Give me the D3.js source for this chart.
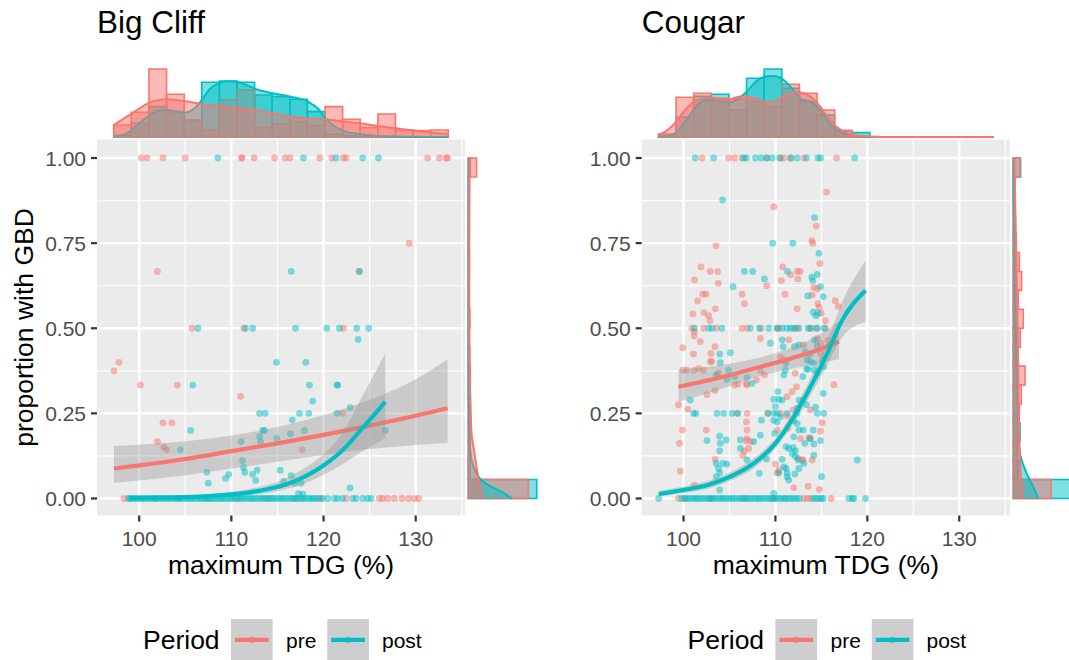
<!DOCTYPE html>
<html>
<head>
<meta charset="utf-8">
<script src="https://cdn.jsdelivr.net/npm/d3@7"></script>
<style>
  body { margin: 0; background: #ffffff; }
  svg { display: block; font-family: "Liberation Sans", Arial, sans-serif; }
</style>
</head>
<body>
<svg id="chart" width="1069" height="660"></svg>
<script>
// ---------- shared settings ----------
const periods = ["pre", "post"];
const periodColors = ["#F8766D", "#00BFC4"];
const xTicks = [100, 110, 120, 130];
const xMinorTicks = [95, 105, 115, 125, 135];
const yTicks = [0, 0.25, 0.5, 0.75, 1];
const yTickLabels = ["0.00", "0.25", "0.50", "0.75", "1.00"];
const yMinorTicks = [0.125, 0.375, 0.625, 0.875];
const facetTitles = ["Big Cliff", "Cougar"];

// ---------- Big Cliff ----------
const bigCliffExtent = [97.24, 133.53];
const bigCliffPreOnes = [100.24, 100.85, 102.58, 105.0, 111.1, 111.18, 112.48, 114.68, 115.84, 116.38, 119.59, 120.89, 122.16, 122.45, 131.29, 132.56, 133.28, 133.46];
const bigCliffPostOnes = [108.54, 117.82, 121.36, 124.25, 125.95];
const bigCliffPreZeros = [98.35, 98.8, 101.8, 104.4, 107.3, 110.6, 113.9, 117.0, 119.7, 122.45, 126.06, 126.41, 126.96, 127.68, 128.51, 129.23, 129.85, 130.32];
const bigCliffPostZeros = [98.9, 99.1, 99.4, 99.6, 99.9, 100.2, 100.5, 100.7, 101.0, 101.3, 101.6, 101.8, 102.1, 102.4, 102.7, 103.0, 103.2, 103.5, 103.8, 104.1, 104.3, 104.6, 104.9, 105.2, 105.5, 105.7, 106.0, 106.3, 106.6, 106.8, 107.1, 107.4, 107.7, 107.9, 108.2, 108.5, 108.8, 109.0, 109.3, 109.6, 109.9, 110.1, 110.4, 110.7, 111.0, 111.2, 111.5, 111.8, 112.1, 112.3, 112.6, 112.9, 113.2, 113.4, 113.7, 114.0, 114.3, 114.5, 114.8, 115.1, 115.4, 115.6, 115.9, 116.2, 116.5, 116.7, 117.0, 117.3, 117.6, 117.8, 118.1, 118.4, 118.7, 118.9, 119.2, 119.5, 119.9, 120.46, 121.18, 121.54, 122.08, 123.17, 123.53, 124.25, 124.79, 125.15];
const bigCliffPreOther = [
  [129.3, 0.75], [101.97, 0.667], [123.85, 0.667], [105.72, 0.5], [111.36, 0.5], [122.16, 0.5],
  [97.27, 0.375], [97.81, 0.4], [100.13, 0.333], [104.14, 0.333], [111.0, 0.3], [122.08, 0.25],
  [102.58, 0.222], [103.55, 0.222], [102.0, 0.167], [102.69, 0.15], [102.98, 0.143], [117.68, 0.143]
];
const bigCliffPostOther = [
  [116.49, 0.667], [123.9, 0.667], [106.37, 0.5], [111.54, 0.5], [112.33, 0.5], [116.96, 0.5],
  [120.35, 0.5], [121.72, 0.5], [123.6, 0.5], [124.9, 0.5], [123.75, 0.467], [105.83, 0.333],
  [114.9, 0.4], [118.07, 0.4], [118.47, 0.333], [121.54, 0.333], [121.45, 0.333], [118.83, 0.286],
  [122.88, 0.267], [121.47, 0.25], [118.4, 0.25], [117.39, 0.25], [113.05, 0.25], [113.67, 0.25],
  [116.6, 0.231], [105.58, 0.2], [113.4, 0.2], [113.6, 0.2], [113.05, 0.182], [117.93, 0.2],
  [116.41, 0.19], [114.93, 0.176], [113.16, 0.167], [111.07, 0.167], [104.46, 0.143], [126.7, 0.2],
  [111.21, 0.111], [111.32, 0.091], [111.46, 0.077], [112.3, 0.071], [112.8, 0.083], [112.65, 0.053],
  [107.35, 0.077], [107.5, 0.045], [109.37, 0.059], [109.73, 0.071], [115.3, 0.083], [115.69, 0.05],
  [116.49, 0.067], [116.85, 0.045], [117.57, 0.045], [117.28, 0.014], [117.75, 0.013], [122.88, 0.031]
];
// logistic fits: [x, fit, lower, upper]
const bigCliffPreFit = [
  [97.27, 0.088, 0.046, 0.154], [100, 0.097, 0.053, 0.158], [105, 0.116, 0.068, 0.168],
  [110, 0.139, 0.088, 0.185], [115, 0.162, 0.108, 0.21], [120, 0.187, 0.128, 0.245],
  [125, 0.214, 0.145, 0.29], [130, 0.243, 0.157, 0.35], [133.46, 0.265, 0.164, 0.409]
];
const bigCliffPostFit = [
  [98.9, 0.001, 0.0, 0.004], [102, 0.002, 0.0005, 0.006], [105, 0.004, 0.001, 0.009],
  [108, 0.008, 0.003, 0.014], [110, 0.012, 0.006, 0.02], [112, 0.018, 0.01, 0.028],
  [114, 0.028, 0.016, 0.04], [116, 0.042, 0.028, 0.06], [118, 0.065, 0.045, 0.09],
  [120, 0.097, 0.07, 0.13], [122, 0.14, 0.1, 0.19], [124, 0.2, 0.135, 0.29], [126.7, 0.284, 0.176, 0.426]
];
// marginal histograms (19 bins across the x extent) and densities
const bigCliffPreHist = [0.0123, 0.025, 0.0683, 0.043, 0.0167, 0.0073, 0.0373, 0.0473, 0.0097, 0.0133, 0.0157, 0.0117, 0.0307, 0.018, 0.0097, 0.0233, 0.0073, 0.0067, 0.0073];
const bigCliffPostHist = [0.002, 0.014, 0.0307, 0.0257, 0.0173, 0.055, 0.0563, 0.055, 0.0423, 0.0407, 0.038, 0.0257, 0.003, 0.0015, 0.001, 0.001, 0, 0, 0];
const bigCliffPreDens = [[97.24, .0123], [99.22, .024], [101.14, .0347], [103.05, .038], [105.04, .036], [106.84, .033], [108.83, .0307], [110.71, .0287], [112.69, .0267], [114.5, .024], [116.41, .0207], [118.29, .0187], [120.2, .018], [122.08, .0157], [123.96, .014], [125.87, .0113], [127.86, .009], [129.74, .0067], [131.65, .0047], [133.53, .0033]];
const bigCliffPostDens = [[97.24, .0007], [98.25, .0023], [99.22, .0073], [100.23, .0157], [101.14, .0223], [102.22, .0267], [103.05, .0273], [104.03, .0257], [105.04, .0247], [106.01, .029], [106.84, .038], [107.64, .048], [108.83, .0547], [109.8, .056], [110.71, .0553], [111.61, .0523], [112.69, .048], [114.5, .044], [116.41, .0407], [118.29, .0357], [119.55, .0273], [120.2, .019], [120.99, .0123], [122.08, .0067], [123.96, .0033], [125.87, .0013], [127.86, .0007], [131.65, .0003], [133.53, .0002]];
// right marginal (18 bins over 0..1)
const bigCliffPreYHist = [12.0, 0.2, 0.4, 0.3, 0.2, 0.3, 0.4, 0.3, 0.1, 0.3, 0, 0.1, 0.2, 0.1, 0, 0, 0, 1.66];
const bigCliffPostYHist = [13.68, 0.3, 0.2, 0.2, 0.2, 0.26, 0.16, 0.16, 0.08, 0.2, 0, 0, 0.12, 0, 0, 0, 0, 0.4];
const bigCliffPreYDens = [[0, 2.66], [0.034, 2.34], [0.074, 1.86], [0.142, 1.14], [0.191, 0.66], [0.27, 0.46], [0.368, 0.26], [0.564, 0.2], [0.76, 0.2], [0.956, 0.26], [1, 0.26]];
const bigCliffPostYDens = [[0, 8.7], [0.02, 6.6], [0.039, 4.0], [0.054, 2.6], [0.083, 1.34], [0.113, 0.66], [0.152, 0.34], [0.22, 0.2], [0.368, 0.06], [0.564, 0.06], [0.76, 0.06], [0.956, 0.1], [1, 0.1]];

// ---------- Cougar ----------
const cougarExtent = [97.27, 133.7];
const cougarPreOnes = [102.0, 104.91, 105.56, 106.36, 109.09, 110.55, 110.91, 111.71, 113.09, 116.65];
const cougarPostOnes = [101.27, 103.27, 106.55, 106.84, 107.82, 108.44, 109.02, 109.64, 110.47, 111.64, 112.36, 113.38, 114.62, 114.91, 118.62];
const cougarPreHalves = [100.91, 102.18, 103.56, 106.36, 106.91, 108.44, 110.18, 110.36, 112.18, 112.36, 113.75, 114.44, 115.45];
const cougarPostHalves = [101.2, 102.73, 103.09, 104.18, 107.27, 108.25, 109.27, 110.18, 110.73, 111.27, 111.64, 112.0, 112.58, 113.56, 113.89, 114.55, 115.27];
const cougarPreQuarters = [105.82, 106.91, 109.16, 110.55];
const cougarPostQuarters = [101.09, 101.35, 103.64, 104.36, 105.27, 105.93, 109.2, 109.82, 110.18, 111.27, 112.36, 114.55, 115.27];
const cougarPreZeros = [99.45, 100.18, 103.0, 106.5, 109.8, 113.1, 113.45, 113.8, 116.07];
const cougarPostZeros = [97.3, 99.8, 100.1, 100.4, 100.7, 101.0, 101.3, 101.5, 101.8, 102.1, 102.4, 102.7, 102.9, 103.2, 103.5, 103.8, 104.1, 104.3, 104.6, 104.9, 105.2, 105.45, 105.8, 106.1, 106.4, 106.7, 106.9, 107.2, 107.5, 107.8, 108.1, 108.3, 108.6, 108.9, 109.2, 109.5, 109.7, 110.0, 110.3, 110.6, 110.9, 111.1, 111.4, 111.7, 112.0, 112.3, 112.6, 114.1, 114.4, 114.7, 115.0, 115.2, 118.0, 118.36, 118.54, 119.8];
const cougarPreOther = [
  [115.56, 0.9], [109.82, 0.857], [114.44, 0.8], [113.96, 0.757], [114.07, 0.75], [103.53, 0.742],
  [114.84, 0.69], [101.89, 0.68], [102.9, 0.667], [103.7, 0.667], [110.8, 0.68], [111.64, 0.657],
  [112.36, 0.667], [112.69, 0.667], [112.44, 0.645], [101.2, 0.642], [103.78, 0.632], [109.05, 0.625],
  [110.65, 0.64], [114.58, 0.616], [114.18, 0.62], [114.0, 0.598], [102.1, 0.6], [102.44, 0.6],
  [106.36, 0.6], [111.05, 0.6], [101.53, 0.58], [106.62, 0.572], [103.45, 0.557], [101.02, 0.542],
  [102.22, 0.546], [102.73, 0.537], [102.87, 0.522], [112.36, 0.557], [114.98, 0.544], [114.62, 0.572],
  [114.76, 0.561], [116.5, 0.581], [116.85, 0.564], [115.45, 0.522],
  [101.16, 0.49], [101.16, 0.477], [99.93, 0.443], [101.09, 0.424], [101.82, 0.461], [102.98, 0.426],
  [103.42, 0.446], [103.09, 0.402], [102.9, 0.402], [101.16, 0.377], [99.93, 0.377], [100.36, 0.377],
  [101.64, 0.382], [102.18, 0.377], [103.8, 0.368], [108.36, 0.47], [111.45, 0.466], [113.05, 0.451],
  [114.55, 0.47], [114.91, 0.456], [114.91, 0.426], [115.71, 0.464], [116.36, 0.334], [110.98, 0.407],
  [110.55, 0.415], [112.15, 0.368], [112.29, 0.328], [108.36, 0.377], [108.8, 0.363], [107.93, 0.348],
  [106.84, 0.338], [106.91, 0.333], [105.93, 0.336], [105.56, 0.333], [102.55, 0.305], [103.42, 0.317],
  [99.45, 0.275], [100.47, 0.262], [111.93, 0.26], [111.27, 0.243], [113.02, 0.289], [113.82, 0.26],
  [111.27, 0.299], [111.82, 0.314], [115.09, 0.223], [112.73, 0.176], [113.64, 0.179], [113.82, 0.176],
  [114.91, 0.198], [112.98, 0.113], [111.35, 0.206], [110.18, 0.201], [106.91, 0.201], [106.84, 0.225],
  [106.91, 0.176], [106.84, 0.169], [107.35, 0.167], [102.47, 0.201], [99.56, 0.162], [99.89, 0.201],
  [106.44, 0.127], [106.62, 0.14], [107.09, 0.147], [103.45, 0.115], [99.64, 0.08], [101.16, 0.039],
  [110.0, 0.101], [110.36, 0.083], [112.47, 0.118], [112.91, 0.113], [114.0, 0.113], [113.56, 0.036],
  [114.8, 0.027], [110.18, 0.075], [112.0, 0.032]
];
const cougarPostOther = [
  [104.25, 0.877], [114.25, 0.825], [109.71, 0.75], [111.89, 0.75], [114.73, 0.72], [106.62, 0.667],
  [107.53, 0.667], [111.31, 0.667], [108.8, 0.645], [105.38, 0.622], [113.96, 0.65], [114.07, 0.64],
  [114.55, 0.658], [114.91, 0.622], [115.2, 0.593], [113.53, 0.595], [114.1, 0.547], [114.4, 0.537],
  [114.65, 0.544],
  [103.93, 0.424], [104.0, 0.399], [105.09, 0.428], [109.45, 0.456], [110.73, 0.466], [110.84, 0.446],
  [112.07, 0.446], [112.55, 0.451], [113.24, 0.431], [113.78, 0.424], [114.25, 0.466], [114.55, 0.448],
  [113.45, 0.407], [113.82, 0.402], [114.18, 0.397], [113.38, 0.38], [113.6, 0.38], [114.25, 0.377],
  [114.55, 0.368], [115.16, 0.407], [115.24, 0.387], [111.16, 0.397], [110.91, 0.363], [111.09, 0.377],
  [112.98, 0.358], [107.45, 0.338], [105.56, 0.358], [106.91, 0.356], [104.91, 0.377], [103.56, 0.363],
  [104.73, 0.35], [100.73, 0.289],
  [110.0, 0.27], [110.36, 0.291], [110.73, 0.289], [110.25, 0.314], [109.82, 0.291], [110.55, 0.24],
  [112.36, 0.265], [112.58, 0.289], [113.38, 0.275], [114.36, 0.268], [115.2, 0.309], [114.11, 0.201],
  [113.75, 0.176], [113.02, 0.201], [112.36, 0.22], [112.55, 0.201], [112.0, 0.228], [113.2, 0.162],
  [114.18, 0.16], [114.91, 0.17], [112.0, 0.181], [111.93, 0.15], [112.18, 0.14], [111.82, 0.132],
  [112.18, 0.123], [112.44, 0.113], [111.45, 0.147], [111.16, 0.152], [109.93, 0.191], [110.18, 0.225],
  [109.82, 0.23], [108.47, 0.23], [106.18, 0.172], [108.36, 0.186], [107.64, 0.167], [103.93, 0.183],
  [104.65, 0.172], [104.0, 0.162], [103.93, 0.14], [102.55, 0.17], [106.18, 0.147], [106.91, 0.113],
  [108.25, 0.074], [109.02, 0.116], [104.29, 0.103], [104.73, 0.101], [103.56, 0.103], [103.82, 0.088],
  [103.93, 0.075], [103.56, 0.064], [103.93, 0.025], [110.73, 0.115], [110.91, 0.093], [111.16, 0.088],
  [110.36, 0.075], [111.27, 0.075], [111.27, 0.064], [111.45, 0.054], [113.09, 0.103], [114.18, 0.127],
  [112.55, 0.088], [112.11, 0.072], [115.02, 0.064], [118.91, 0.113], [109.82, 0.015]
];
const cougarPreFit = [
  [99.45, 0.328, 0.284, 0.379], [102, 0.343, 0.304, 0.385], [105, 0.362, 0.33, 0.396],
  [108, 0.384, 0.357, 0.412], [111, 0.406, 0.377, 0.436], [114, 0.43, 0.392, 0.47], [116.91, 0.461, 0.41, 0.52]
];
const cougarPostFit = [
  [97.3, 0.013, 0.006, 0.022], [100, 0.025, 0.016, 0.035], [102.55, 0.039, 0.028, 0.051],
  [105.09, 0.064, 0.052, 0.077], [107.64, 0.103, 0.089, 0.118], [110, 0.162, 0.147, 0.178],
  [112, 0.24, 0.222, 0.26], [113.82, 0.328, 0.303, 0.354], [115.64, 0.426, 0.392, 0.462],
  [117.09, 0.515, 0.467, 0.566], [119.8, 0.611, 0.52, 0.70]
];
const cougarPreHist = [0.0033, 0.04, 0.044, 0.039, 0.038, 0.0357, 0.0307, 0.053, 0.044, 0.0273, 0.0067, 0.001, 0, 0, 0, 0, 0, 0, 0.0005];
const cougarPostHist = [0.001, 0.02, 0.041, 0.043, 0.0273, 0.059, 0.0683, 0.049, 0.0357, 0.0223, 0.0067, 0.0047, 0, 0, 0, 0, 0, 0, 0];
const cougarPreDens = [[97.27, .0023], [98.18, .0067], [99.2, .0157], [100.18, .0273], [101.16, .0357], [102.18, .0387], [103.16, .039], [104.18, .0373], [105.09, .0383], [106.18, .0407], [106.98, .0407], [108, .038], [108.91, .035], [109.82, .0357], [110.91, .0407], [112, .0457], [112.84, .0447], [113.82, .0407], [114.73, .0323], [115.64, .0207], [116.62, .0107], [117.64, .0047], [118.55, .002], [120.44, .0007], [122.55, .0002], [133.7, .0002]];
const cougarPostDens = [[97.27, .0007], [98.18, .0013], [99.2, .0047], [100.18, .0157], [101.16, .028], [102.18, .0367], [103.16, .0373], [104.18, .0357], [105.09, .035], [106.18, .04], [106.98, .0467], [108, .0567], [108.91, .0607], [109.82, .0613], [110.91, .0573], [112, .0467], [112.84, .038], [113.82, .0357], [114.73, .029], [115.64, .0167], [116.62, .008], [117.64, .0033], [118.55, .0017], [120.44, .0003], [120.73, 0]];
const cougarPreYHist = [7.54, 0.8, 0.8, 1.0, 1.2, 1.6, 2.34, 1.0, 1.4, 2.0, 1.0, 1.66, 1.2, 0.6, 0.4, 0.3, 0.3, 1.34];
const cougarPostYHist = [13.2, 1.0, 0.8, 1.34, 1.0, 0.8, 0.8, 0.6, 0.6, 0.8, 0.4, 0.5, 0.4, 0.2, 0.2, 0.1, 0.1, 1.46];
const cougarPreYDens = [[0, 1.86], [0.074, 1.46], [0.172, 1.2], [0.368, 1.0], [0.564, 0.8], [0.76, 0.54], [0.956, 0.26], [1, 0.2]];
const cougarPostYDens = [[0, 5.0], [0.034, 4.0], [0.074, 2.66], [0.123, 1.46], [0.172, 1.06], [0.27, 0.8], [0.368, 0.66], [0.564, 0.4], [0.76, 0.2], [0.956, 0.06], [1, 0.06]];

// ---------- drawing ----------
const svg = d3.select("#chart");
const panelTop = 139.5, panelBottom = 515.5;
const tickLen = 6;
const pointRadius = 3.4;

function padded(ext) {
  const d = (ext[1] - ext[0]) * 0.05;
  return [ext[0] - d, ext[1] + d];
}

function barPath(x0, x1, yBase, yTop) {
  return `M${x0},${yBase}V${yTop}H${x1}V${yBase}Z`;
}

function drawFacet(f, idx) {
  const g = svg.append("g");
  const [L, R] = f.xRange;
  const x = d3.scaleLinear().domain(padded(f.extent)).range(f.xRange);
  const y = d3.scaleLinear().domain([-0.05, 1.05]).range([panelBottom, 141]);
  const clipId = "clip" + idx;
  svg.append("clipPath").attr("id", clipId)
    .append("rect").attr("x", L).attr("y", panelTop).attr("width", R - L).attr("height", panelBottom - panelTop);

  // panel background and grid
  g.append("rect").attr("x", L).attr("y", panelTop).attr("width", R - L)
    .attr("height", panelBottom - panelTop).attr("fill", "#EBEBEB");
  const dom = x.domain();
  const grid = g.append("g").attr("stroke", "#ffffff");
  xMinorTicks.filter(v => v > dom[0] && v < dom[1]).forEach(v =>
    grid.append("line").attr("x1", x(v)).attr("x2", x(v)).attr("y1", panelTop).attr("y2", panelBottom).attr("stroke-width", 1.2));
  yMinorTicks.forEach(v =>
    grid.append("line").attr("x1", L).attr("x2", R).attr("y1", y(v)).attr("y2", y(v)).attr("stroke-width", 1.2));
  xTicks.forEach(v =>
    grid.append("line").attr("x1", x(v)).attr("x2", x(v)).attr("y1", panelTop).attr("y2", panelBottom).attr("stroke-width", 2.4));
  yTicks.forEach(v =>
    grid.append("line").attr("x1", L).attr("x2", R).attr("y1", y(v)).attr("y2", y(v)).attr("stroke-width", 2.4));

  // points
  const pg = g.append("g").attr("clip-path", `url(#${clipId})`);
  f.series.forEach((s, i) => {
    const pts = [].concat(
      s.ones.map(v => [v, 1]),
      s.zeros.map(v => [v, 0]),
      (s.halves || []).map(v => [v, 0.5]),
      (s.quarters || []).map(v => [v, 0.25]),
      s.other
    );
    pg.selectAll(null).data(pts).enter().append("circle")
      .attr("cx", d => x(d[0])).attr("cy", d => y(d[1])).attr("r", pointRadius)
      .attr("fill", periodColors[i]).attr("fill-opacity", 0.5);
  });

  // smooth fits with confidence ribbons
  f.series.forEach((s, i) => {
    const band = d3.area().x(d => x(d[0])).y0(d => y(d[2])).y1(d => y(d[3])).curve(d3.curveMonotoneX);
    const line = d3.line().x(d => x(d[0])).y(d => y(d[1])).curve(d3.curveMonotoneX);
    pg.append("path").attr("d", band(s.fit)).attr("fill", "#999999").attr("fill-opacity", 0.4);
    pg.append("path").attr("d", line(s.fit)).attr("fill", "none")
      .attr("stroke", periodColors[i]).attr("stroke-width", 4.2);
  });

  // axes
  const axisG = g.append("g");
  yTicks.forEach((v, k) => {
    axisG.append("line").attr("x1", L - tickLen).attr("x2", L).attr("y1", y(v)).attr("y2", y(v))
      .attr("stroke", "#333333").attr("stroke-width", 2.2);
    axisG.append("text").attr("x", L - tickLen - 5).attr("y", y(v) + 7.5)
      .attr("text-anchor", "end").attr("font-size", 21).attr("fill", "#4D4D4D").text(yTickLabels[k]);
  });
  xTicks.forEach(v => {
    axisG.append("line").attr("x1", x(v)).attr("x2", x(v)).attr("y1", panelBottom).attr("y2", panelBottom + tickLen)
      .attr("stroke", "#333333").attr("stroke-width", 2.2);
    axisG.append("text").attr("x", x(v)).attr("y", 545.5)
      .attr("text-anchor", "middle").attr("font-size", 21).attr("fill", "#4D4D4D").text(v);
  });
  axisG.append("text").attr("x", (L + R) / 2).attr("y", 573.5)
    .attr("text-anchor", "middle").attr("font-size", 26.5).attr("fill", "#000").text("maximum TDG (%)");
  if (f.yTitle) {
    axisG.append("text").attr("transform", `translate(33,${(panelTop + panelBottom) / 2}) rotate(-90)`)
      .attr("text-anchor", "middle").attr("font-size", 26.5).attr("fill", "#000").text(f.yTitle);
  }
  g.append("text").attr("x", L).attr("y", 33).attr("font-size", 31.5).attr("fill", "#000").text(f.title);

  // top marginal: histograms then densities
  const yTop = d3.scaleLinear().domain([0, 0.07]).range([137.3, 67.3]);
  const nb = f.series[0].hist.length;
  const bw = (f.extent[1] - f.extent[0]) / nb;
  const top = g.append("g");
  const order = [1, 0];
  order.forEach(i => {
    const s = f.series[i];
    s.hist.forEach((h, k) => {
      const x0 = x(f.extent[0] + k * bw), x1 = x(f.extent[0] + (k + 1) * bw);
      top.append("path").attr("d", barPath(x0, x1, yTop(0), yTop(h)))
        .attr("fill", periodColors[i]).attr("fill-opacity", 0.5)
        .attr("stroke", periodColors[i]).attr("stroke-width", 1.6);
    });
  });
  order.forEach(i => {
    const s = f.series[i];
    const area = d3.area().x(d => x(d[0])).y0(yTop(0)).y1(d => yTop(d[1])).curve(d3.curveMonotoneX);
    const line = d3.line().x(d => x(d[0])).y(d => yTop(d[1])).curve(d3.curveMonotoneX);
    top.append("path").attr("d", area(s.dens)).attr("fill", periodColors[i]).attr("fill-opacity", 0.5);
    top.append("path").attr("d", line(s.dens)).attr("fill", "none")
      .attr("stroke", periodColors[i]).attr("stroke-width", 2);
  });

  // right marginal: histograms then densities over the proportion axis
  const xSide = d3.scaleLinear().domain([0, 14]).range([R + 3.3, R + 73.3]);
  const side = g.append("g");
  const nyb = f.series[0].yHist.length;
  order.forEach(i => {
    const s = f.series[i];
    s.yHist.forEach((w, k) => {
      const y0 = y(k / nyb), y1 = y((k + 1) / nyb);
      side.append("path").attr("d", `M${xSide(0)},${y0}H${xSide(w)}V${y1}H${xSide(0)}Z`)
        .attr("fill", periodColors[i]).attr("fill-opacity", 0.5)
        .attr("stroke", periodColors[i]).attr("stroke-width", 1.6);
    });
  });
  order.forEach(i => {
    const s = f.series[i];
    const area = d3.area().y(d => y(d[0])).x0(xSide(0)).x1(d => xSide(d[1])).curve(d3.curveMonotoneY);
    const line = d3.line().y(d => y(d[0])).x(d => xSide(d[1])).curve(d3.curveMonotoneY);
    side.append("path").attr("d", area(s.yDens)).attr("fill", periodColors[i]).attr("fill-opacity", 0.5);
    side.append("path").attr("d", line(s.yDens)).attr("fill", "none")
      .attr("stroke", periodColors[i]).attr("stroke-width", 2);
  });

  // legend
  const lg = g.append("g").attr("transform", `translate(${f.legendX},0)`);
  lg.append("text").attr("x", 0).attr("y", 649).attr("font-size", 26.5).attr("fill", "#000").text("Period");
  const keyX = [88, 184.3], labelX = [143, 239];
  periods.forEach((p, i) => {
    const kx = keyX[i], ky = 619, ks = 41.6;
    lg.append("rect").attr("x", kx).attr("y", ky).attr("width", ks).attr("height", ks).attr("fill", "#F2F2F2");
    lg.append("circle").attr("cx", kx + ks / 2).attr("cy", ky + ks / 2).attr("r", pointRadius)
      .attr("fill", periodColors[i]).attr("fill-opacity", 0.5);
    lg.append("rect").attr("x", kx).attr("y", ky).attr("width", ks).attr("height", ks)
      .attr("fill", "#999999").attr("fill-opacity", 0.4);
    lg.append("line").attr("x1", kx + 4).attr("x2", kx + ks - 4).attr("y1", ky + ks / 2).attr("y2", ky + ks / 2)
      .attr("stroke", periodColors[i]).attr("stroke-width", 4.2);
    lg.append("text").attr("x", labelX[i]).attr("y", 647.5).attr("font-size", 21).attr("fill", "#000").text(p);
  });
}

const facets = [
  {
    title: facetTitles[0], extent: bigCliffExtent, xRange: [97, 465], yTitle: "proportion with GBD", legendX: 143,
    series: [
      { ones: bigCliffPreOnes, zeros: bigCliffPreZeros, other: bigCliffPreOther, fit: bigCliffPreFit,
        hist: bigCliffPreHist, dens: bigCliffPreDens, yHist: bigCliffPreYHist, yDens: bigCliffPreYDens },
      { ones: bigCliffPostOnes, zeros: bigCliffPostZeros, other: bigCliffPostOther, fit: bigCliffPostFit,
        hist: bigCliffPostHist, dens: bigCliffPostDens, yHist: bigCliffPostYHist, yDens: bigCliffPostYDens }
    ]
  },
  {
    title: facetTitles[1], extent: cougarExtent, xRange: [641.7, 1010], yTitle: null, legendX: 687.5,
    series: [
      { ones: cougarPreOnes, zeros: cougarPreZeros, halves: cougarPreHalves, quarters: cougarPreQuarters,
        other: cougarPreOther, fit: cougarPreFit,
        hist: cougarPreHist, dens: cougarPreDens, yHist: cougarPreYHist, yDens: cougarPreYDens },
      { ones: cougarPostOnes, zeros: cougarPostZeros, halves: cougarPostHalves, quarters: cougarPostQuarters,
        other: cougarPostOther, fit: cougarPostFit,
        hist: cougarPostHist, dens: cougarPostDens, yHist: cougarPostYHist, yDens: cougarPostYDens }
    ]
  }
];
facets.forEach((f, i) => drawFacet(f, i));
</script>
</body>
</html>
